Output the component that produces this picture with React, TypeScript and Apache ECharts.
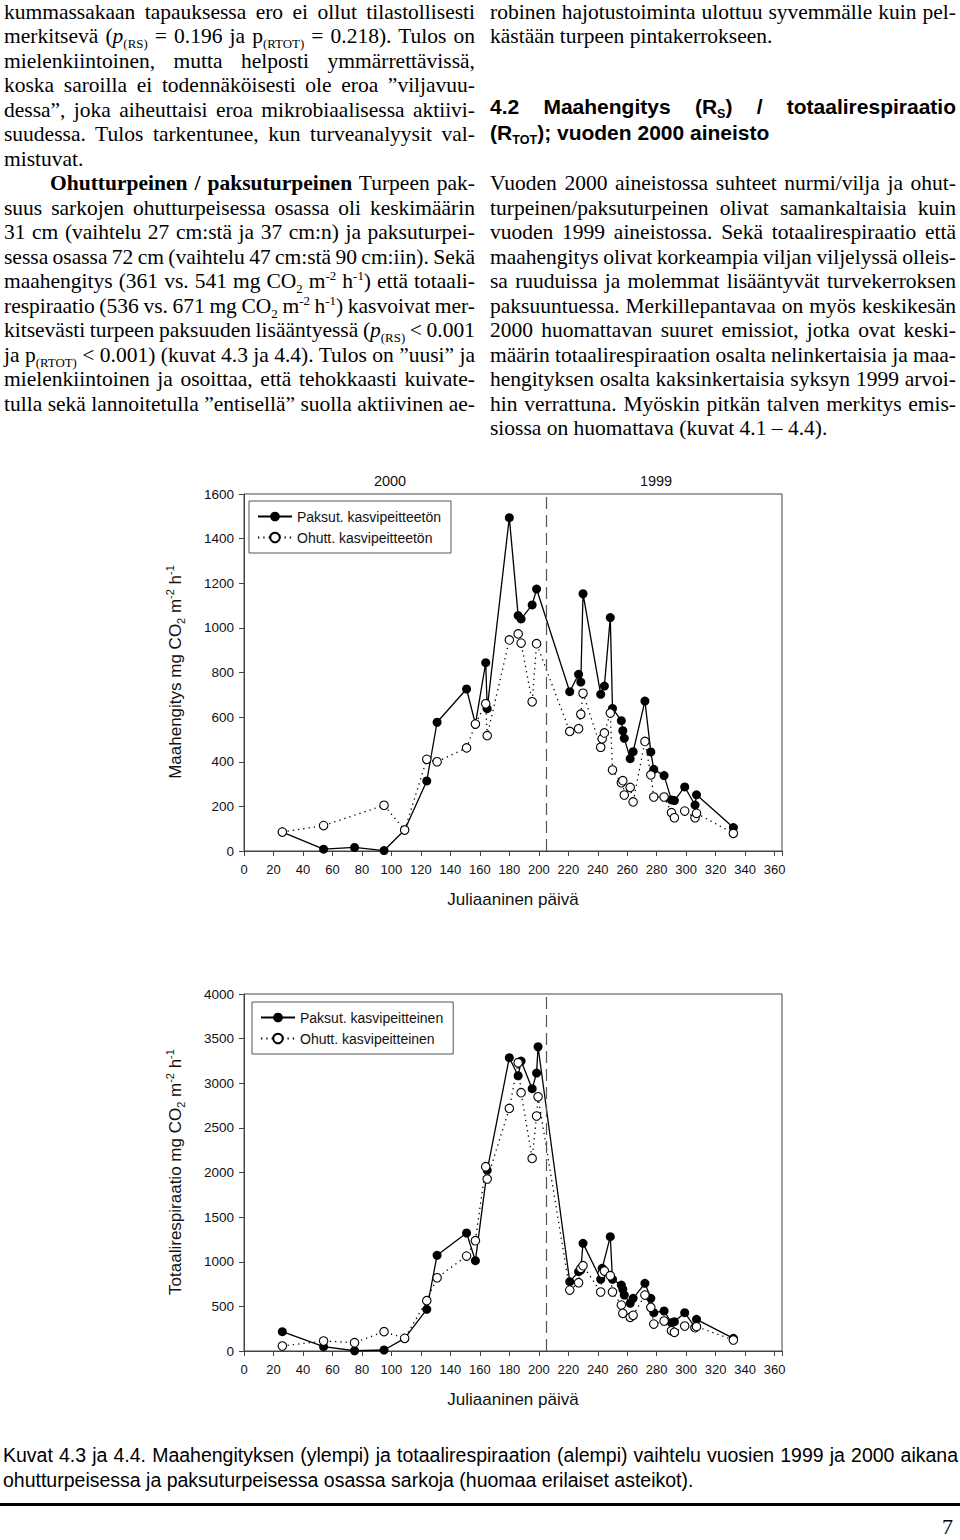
import React, { useEffect, useLayoutEffect, useRef, useState } from "react";
import * as echarts from "echarts";

const SANS = "'Liberation Sans', Arial, Helvetica, sans-serif";
const SERIF = "'Liberation Serif', 'Times New Roman', serif";

// ---------- Chart data (Julian day / mg CO2 m-2 h-1) ----------
// Upper chart: Maahengitys, kasvipeitteetön
const thickBareDays = [26, 54, 75, 95, 109, 124, 131, 151, 157, 164, 165, 180, 186, 188, 195.5, 198.5, 221, 227, 228.5, 230, 242, 244.5, 248.5, 250, 256, 257, 258, 262, 264, 272, 276, 278, 285, 290, 292, 299, 306, 307, 332];
const thickBareValues = [85, 8, 16, 2, 94, 314, 577, 726, 569, 844, 638, 1494, 1055, 1040, 1103, 1174, 714, 792, 757, 1153, 702, 739, 1046, 639, 584, 539, 505, 414, 445, 672, 444, 366, 338, 229, 226, 287, 206, 252, 105];
const thinBareDays = [26, 54, 95, 109, 124, 131, 151, 157, 164, 165, 180, 186, 188, 195.5, 198.5, 221, 227, 228.5, 230, 242, 243, 244.5, 248.5, 250, 256, 257, 258, 262, 264, 272, 276, 278, 285, 290, 292, 299, 306, 307, 332];
const thinBareValues = [85, 114, 205, 94, 411, 400, 462, 569, 660, 517, 946, 973, 932, 669, 929, 536, 548, 613, 707, 465, 503, 529, 618, 363, 306, 315, 251, 285, 220, 491, 341, 242, 242, 172, 149, 179, 149, 169, 79];

// Lower chart: Totaalirespiraatio, kasvipeitteinen
const thickVegDays = [26, 54, 75, 95, 109, 124, 131, 151, 157, 165, 180, 186, 188, 195.5, 198.5, 199.5, 221, 227, 228.5, 230, 242, 243, 248.5, 250, 256, 257, 258, 262, 264, 272, 276, 278, 285, 290, 292, 299, 306, 307, 332];
const thickVegValues = [217, 49, 3, 11, 142, 467, 1072, 1322, 1012, 2024, 3286, 3084, 3249, 2939, 3114, 3409, 777, 889, 907, 1206, 803, 926, 1281, 803, 739, 691, 627, 534, 590, 758, 590, 429, 448, 317, 329, 429, 265, 355, 142];
const thinVegDays = [26, 54, 75, 95, 109, 124, 131, 151, 157, 164, 165, 180, 186, 188, 195.5, 198.5, 199.5, 221, 227, 228.5, 230, 242, 243, 244.5, 248.5, 250, 256, 257, 262, 264, 272, 276, 278, 285, 290, 292, 299, 306, 307, 332];
const thinVegValues = [56, 112, 93, 217, 142, 564, 821, 1064, 1236, 2065, 1927, 2718, 3230, 2894, 2158, 2633, 2849, 683, 765, 926, 956, 661, 870, 896, 844, 661, 515, 422, 377, 400, 627, 489, 302, 336, 228, 209, 280, 261, 273, 123];

const seriesNames = ["Paksut. kasvipeitteetön", "Ohutt. kasvipeitteetön", "Paksut. kasvipeitteinen", "Ohutt. kasvipeitteinen"];
const yearLabels = ["2000", "1999"];
const yearBoundaryDay = 205;
const xTitle = "Juliaaninen päivä";

// ---------- Page text ----------
const leftLines = [
  "kummassakaan tapauksessa ero ei ollut tilastollisesti",
  "merkitsevä (~{p}_{(RS)} = 0.196 ja p_{(RTOT)} = 0.218). Tulos on",
  "mielenkiintoinen, mutta helposti ymmärrettävissä,",
  "koska saroilla ei todennäköisesti ole eroa ”viljavuu-",
  "dessa”, joka aiheuttaisi eroa mikrobiaalisessa aktiivi-",
  "suudessa. Tulos tarkentunee, kun turveanalyysit val-",
  "mistuvat.",
  "#{Ohutturpeinen / paksuturpeinen} Turpeen pak-",
  "suus sarkojen ohutturpeisessa osassa oli keskimäärin",
  "31 cm (vaihtelu 27 cm:stä ja 37 cm:n) ja paksuturpei-",
  "sessa osassa 72 cm (vaihtelu 47 cm:stä 90 cm:iin). Sekä",
  "maahengitys (361 vs. 541 mg CO_{2} m^{-2} h^{-1}) että totaali-",
  "respiraatio (536 vs. 671 mg CO_{2} m^{-2} h^{-1}) kasvoivat mer-",
  "kitsevästi turpeen paksuuden lisääntyessä (~{p}_{(RS)} < 0.001",
  "ja p_{(RTOT)} < 0.001) (kuvat 4.3 ja 4.4). Tulos on ”uusi” ja",
  "mielenkiintoinen ja osoittaa, että tehokkaasti kuivate-",
  "tulla sekä lannoitetulla ”entisellä” suolla aktiivinen ae-",
];
const leftNotJustified = [6];
const rightTop = [
  "robinen hajotustoiminta ulottuu syvemmälle kuin pel-",
  "kästään turpeen pintakerrokseen.",
];
const heading = ["4.2 Maahengitys (R_{S}) / totaalirespiraatio", "(R_{TOT}); vuoden 2000 aineisto"];
const rightPara = [
  "Vuoden 2000 aineistossa suhteet nurmi/vilja ja ohut-",
  "turpeinen/paksuturpeinen olivat samankaltaisia kuin",
  "vuoden 1999 aineistossa. Sekä totaalirespiraatio että",
  "maahengitys olivat korkeampia viljan viljelyssä olleis-",
  "sa ruuduissa ja molemmat lisääntyvät turvekerroksen",
  "paksuuntuessa. Merkillepantavaa on myös keskikesän",
  "2000 huomattavan suuret emissiot, jotka ovat keski-",
  "määrin totaalirespiraation osalta nelinkertaisia ja maa-",
  "hengityksen osalta kaksinkertaisia syksyn 1999 arvoi-",
  "hin verrattuna. Myöskin pitkän talven merkitys emis-",
  "siossa on huomattava (kuvat 4.1 – 4.4).",
];
const caption = [
  "Kuvat 4.3 ja 4.4. Maahengityksen (ylempi) ja totaalirespiraation (alempi) vaihtelu vuosien 1999 ja 2000 aikana",
  "ohutturpeisessa ja paksuturpeisessa osassa sarkoja (huomaa erilaiset asteikot).",
];

function markup(s: string): React.ReactNode[] {
  const out: React.ReactNode[] = [];
  const re = /([_^~#])\{([^}]*)\}/g;
  let last = 0;
  let m: RegExpExecArray | null;
  let k = 0;
  while ((m = re.exec(s))) {
    if (m.index > last) out.push(s.slice(last, m.index));
    const t = m[1];
    const c = m[2];
    if (t === "_")
      out.push(<span key={k++} style={{ fontSize: "0.6em", verticalAlign: "-0.35em", lineHeight: 0 }}>{c}</span>);
    else if (t === "^")
      out.push(<span key={k++} style={{ fontSize: "0.6em", verticalAlign: "0.6em", lineHeight: 0 }}>{c}</span>);
    else if (t === "~") out.push(<i key={k++}>{c}</i>);
    else out.push(<b key={k++}>{c}</b>);
    last = re.lastIndex;
  }
  if (last < s.length) out.push(s.slice(last));
  return out;
}

type LineProps = {
  text: string;
  x: number;
  y: number;
  w: number;
  justify: boolean;
  size: number;
  family: string;
  weight?: number;
  lh?: number;
};

function Line({ text, x, y, w, justify, size, family, weight, lh = 24 }: LineProps) {
  const ref = useRef<HTMLDivElement>(null);
  useLayoutEffect(() => {
    const el = ref.current;
    if (!el || !justify) return;
    el.style.wordSpacing = "0px";
    const natural = el.getBoundingClientRect().width;
    const spaces = (el.textContent || "").split(" ").length - 1;
    if (spaces > 0) el.style.wordSpacing = (w - natural) / spaces + "px";
  });
  return (
    <div
      ref={ref}
      style={{
        position: "absolute",
        left: x,
        top: y - lh / 2,
        whiteSpace: "nowrap",
        fontSize: size,
        lineHeight: lh + "px",
        fontFamily: family,
        fontWeight: weight || 400,
        color: "#000",
      }}
    >
      {markup(text)}
    </div>
  );
}

const pairs = (d: number[], v: number[]) => d.map((x, i) => [x, v[i]]);

function yTitle(x: number, y: number, label: string) {
  return {
    type: "text",
    x,
    y,
    rotation: Math.PI / 2,
    style: {
      text: `{t|${label} mg CO}{sub|2}{t| m}{sup|-2}{t| h}{sup|-1}`,
      align: "center",
      verticalAlign: "middle",
      fill: "#111",
      rich: {
        t: { fontSize: 17, fontFamily: SANS, lineHeight: 22, verticalAlign: "middle", fill: "#111" },
        sub: { fontSize: 11, fontFamily: SANS, lineHeight: 12, verticalAlign: "bottom", fill: "#111" },
        sup: { fontSize: 11, fontFamily: SANS, lineHeight: 12, verticalAlign: "top", fill: "#111" },
      },
    },
  };
}

function Chart() {
  const ref = useRef<HTMLDivElement>(null);
  useEffect(() => {
    if (!ref.current) return;
    const chart = echarts.init(ref.current, undefined, { renderer: "svg" });
    const grids = [
      { left: 244, top: 494, width: 538, height: 357 },
      { left: 244, top: 994, width: 538, height: 357 },
    ];
    const axisColor = "#444";
    const xAxes = [0, 1].map((i) => ({
      type: "value",
      gridIndex: i,
      min: 0,
      max: 365,
      interval: 20,
      name: xTitle,
      nameLocation: "middle",
      nameGap: 40,
      nameTextStyle: { fontSize: 17, color: "#111", fontFamily: SANS },
      axisLine: { show: true, onZero: false, lineStyle: { color: axisColor, width: 1 } },
      axisTick: { show: true, length: 5, lineStyle: { color: axisColor } },
      axisLabel: {
        fontSize: 13,
        color: "#111",
        fontFamily: SANS,
        margin: 12,
        formatter: (v: number) => (v % 20 === 0 && v <= 360 ? String(v) : ""),
      },
      splitLine: { show: false },
    }));
    const yMax = [1600, 4000];
    const yInt = [200, 500];
    const yAxes = [0, 1].map((i) => ({
      type: "value",
      gridIndex: i,
      min: 0,
      max: yMax[i],
      interval: yInt[i],
      axisLine: { show: true, onZero: false, lineStyle: { color: axisColor, width: 1 } },
      axisTick: { show: true, length: 5, lineStyle: { color: axisColor } },
      axisLabel: { fontSize: 13.5, color: "#111", fontFamily: SANS, margin: 10, formatter: (v: number) => String(v) },
      splitLine: { show: false },
    }));
    const markLine = {
      silent: true,
      symbol: ["none", "none"],
      label: { show: false },
      lineStyle: { color: "#555", type: [12, 6], width: 1.2 },
      data: [{ xAxis: yearBoundaryDay }],
      animation: false,
    };
    const filled = (name: string, data: number[][], gi: number) => ({
      type: "line",
      name,
      xAxisIndex: gi,
      yAxisIndex: gi,
      data,
      symbol: "circle",
      symbolSize: 9,
      showSymbol: true,
      itemStyle: { color: "#000", borderColor: "#000", borderWidth: 0 },
      lineStyle: { color: "#000", width: 1.3 },
      emphasis: { disabled: true },
      z: 2,
      markLine,
    });
    const open = (name: string, data: number[][], gi: number) => ({
      type: "line",
      name,
      xAxisIndex: gi,
      yAxisIndex: gi,
      data,
      symbol: "circle",
      symbolSize: 8.5,
      showSymbol: true,
      itemStyle: { color: "#fff", borderColor: "#000", borderWidth: 1.1 },
      lineStyle: { color: "#000", width: 1.3, type: [1.3, 4] },
      emphasis: { disabled: true },
      z: 3,
    });
    const legendBase = {
      orient: "vertical",
      borderColor: "#555",
      borderWidth: 1,
      borderRadius: 0,
      backgroundColor: "#fff",
      padding: [7, 10, 7, 8],
      itemGap: 4,
      itemWidth: 34,
      itemHeight: 12,
      textStyle: { fontSize: 14, color: "#111", fontFamily: SANS, lineHeight: 17 },
      selectedMode: false,
    };
    chart.setOption({
      animation: false,
      grid: grids.map((g) => ({ ...g, show: true, borderColor: axisColor, borderWidth: 1, containLabel: false })),
      xAxis: xAxes,
      yAxis: yAxes,
      legend: [
        { ...legendBase, left: 249, top: 501, data: [seriesNames[0], seriesNames[1]] },
        { ...legendBase, left: 252, top: 1002, data: [seriesNames[2], seriesNames[3]] },
      ],
      series: [
        filled(seriesNames[0], pairs(thickBareDays, thickBareValues), 0),
        open(seriesNames[1], pairs(thinBareDays, thinBareValues), 0),
        filled(seriesNames[2], pairs(thickVegDays, thickVegValues), 1),
        open(seriesNames[3], pairs(thinVegDays, thinVegValues), 1),
      ],
      graphic: [
        {
          type: "text",
          x: 390,
          y: 481,
          style: { text: yearLabels[0], align: "center", verticalAlign: "middle", fontSize: 14.5, fontFamily: SANS, fill: "#111" },
        },
        {
          type: "text",
          x: 656,
          y: 481,
          style: { text: yearLabels[1], align: "center", verticalAlign: "middle", fontSize: 14.5, fontFamily: SANS, fill: "#111" },
        },
        yTitle(175, 672, "Maahengitys"),
        yTitle(175, 1172, "Totaalirespiraatio"),
      ],
    });
    return () => chart.dispose();
  }, []);
  return <div ref={ref} style={{ position: "absolute", left: 0, top: 0, width: 960, height: 1540 }} />;
}

export default function App() {
  const [, setTick] = useState(0);
  useEffect(() => {
    const f: any = (document as any).fonts;
    if (f && f.ready) f.ready.then(() => setTick((t) => t + 1));
  }, []);
  const yAt = (i: number) => 11.5 + 24.5 * i;
  const BODY = 21.5;
  return (
    <div style={{ position: "absolute", left: 0, top: 0, width: 960, height: 1540, background: "#fff", overflow: "hidden" }}>
      <Chart />
      {leftLines.map((t, i) => (
        <Line
          key={"l" + i}
          text={t}
          x={i === 7 ? 50 : 4}
          y={yAt(i)}
          w={i === 7 ? 425 : 471}
          justify={!leftNotJustified.includes(i)}
          size={BODY}
          family={SERIF}
        />
      ))}
      {rightTop.map((t, i) => (
        <Line key={"rt" + i} text={t} x={490} y={yAt(i)} w={466} justify={i === 0} size={BODY} family={SERIF} />
      ))}
      {heading.map((t, i) => (
        <Line
          key={"h" + i}
          text={t}
          x={490}
          y={i === 0 ? 107 : 133}
          w={466}
          justify={i === 0}
          size={21}
          family={SANS}
          weight={700}
          lh={22}
        />
      ))}
      {rightPara.map((t, i) => (
        <Line
          key={"rp" + i}
          text={t}
          x={490}
          y={yAt(7 + i)}
          w={466}
          justify={i < rightPara.length - 1}
          size={BODY}
          family={SERIF}
        />
      ))}
      {caption.map((t, i) => (
        <Line key={"c" + i} text={t} x={3} y={1455 + 25 * i} w={955} justify={i === 0} size={19.5} family={SANS} />
      ))}
      <div style={{ position: "absolute", left: 0, top: 1503, width: 960, height: 3, background: "#000" }} />
      <div style={{ position: "absolute", left: 942, top: 1514, fontFamily: SERIF, fontSize: 22, lineHeight: "26px", color: "#000" }}>7</div>
    </div>
  );
}
